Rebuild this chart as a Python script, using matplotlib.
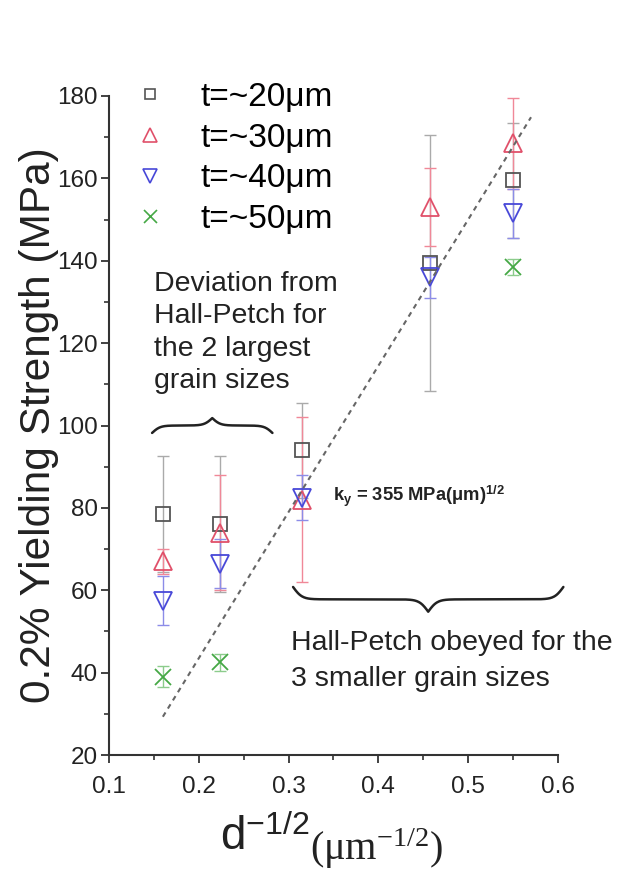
import numpy as np
import matplotlib
matplotlib.use('Agg')
import matplotlib.pyplot as plt
from matplotlib.lines import Line2D

plt.rcParams['font.family'] = ['Liberation Sans', 'DejaVu Sans']
plt.rcParams['mathtext.fontset'] = 'custom'
plt.rcParams['mathtext.rm'] = 'Liberation Serif'
plt.rcParams['mathtext.sf'] = 'Liberation Sans'
plt.rcParams['mathtext.it'] = 'Liberation Serif:italic'
plt.rcParams['mathtext.bf'] = 'Liberation Sans:bold'

# d^-1/2 of the five grain sizes
grain_x = [0.160, 0.224, 0.315, 0.457, 0.550]

# yield strength per foil thickness (MPa) and error bars
t20 = [78.5, 76.0, 94.0, 139.5, 159.5]
t20_err = [14.0, 16.5, 11.5, 31.0, 14.0]
t30 = [67.0, 74.0, 82.0, 153.0, 168.5]
t30_err = [3.0, 14.0, 20.0, 9.5, 11.0]
t40 = [57.5, 66.5, 82.5, 136.0, 151.5]
t40_err = [6.0, 6.0, 5.5, 5.0, 6.0]
t50 = [39.0, 42.5, np.nan, np.nan, 138.5]
t50_err = [2.5, 2.0, np.nan, np.nan, 2.0]

series_labels = ['t=~20μm', 't=~30μm', 't=~40μm', 't=~50μm']

# Hall-Petch fit line
ky = 355.0
sigma0 = -27.5
fit_x = [0.160, 0.570]

x_ticks = [0.1, 0.2, 0.3, 0.4, 0.5, 0.6]
y_ticks = [20, 40, 60, 80, 100, 120, 140, 160, 180]


def draw_brace(ax, x0, x1, y, h, beta):
    # curly brace from x0 to x1, ends at y, tip at y + h
    half = np.linspace(0, 0.5, 200)
    yh = 1 / (1 + np.exp(-beta * half)) + 1 / (1 + np.exp(-beta * (half - 0.5)))
    yh = yh - yh[0]
    yh = yh / yh[-1]
    frac = np.concatenate([half, 1 - half[::-1]])
    shape = np.concatenate([yh, yh[::-1]])
    ax.plot(x0 + (x1 - x0) * frac, y + h * shape, color='#222222', lw=1.8,
            clip_on=False, solid_capstyle='round')


fig = plt.figure(figsize=(6.21, 8.75), dpi=100)
ax = fig.add_axes([0.1755, 0.1371, 0.723, 0.7532])

styles = [
    (t20, t20_err, 's', '#555555', '#aaaaaa', 10),
    (t30, t30_err, '^', '#e0506a', '#f08898', 12.5),
    (t40, t40_err, 'v', '#4848d8', '#8c8ce8', 12.5),
    (t50, t50_err, 'x', '#45a845', '#8ccc8c', 12),
]
for vals, errs, marker, col, ecol, ms in styles:
    ax.errorbar(grain_x, vals, yerr=errs, fmt='none', ecolor=ecol,
                elinewidth=1.0, capsize=4, capthick=1.0)
for vals, errs, marker, col, ecol, ms in styles:
    ax.plot(grain_x, vals, linestyle='none', marker=marker, ms=ms,
            mfc='none', mec=col, mew=1.3)

fx = np.array(fit_x)
ax.plot(fx, ky * fx + sigma0, color='#666666', lw=1.5, ls=(0, (2.4, 2.2)))

handles = [
    Line2D([], [], ls='none', marker=m, ms=ms * 0.78, mfc='none', mec=c, mew=1.2)
    for _, _, m, c, _, ms in styles
]
ax.legend(handles, series_labels, loc='upper left', bbox_to_anchor=(0.0546, 1.021),
          frameon=False, fontsize=24, handlelength=1.0, handletextpad=1.0,
          labelspacing=0.29, borderpad=0.0, borderaxespad=0.0)

ax.text(0.150, 137.6, 'Deviation from\nHall-Petch for\nthe 2 largest\ngrain sizes',
        fontsize=20.5, color='#222222', va='top', ha='left', linespacing=1.33)
draw_brace(ax, 0.148, 0.282, 98.2, 3.6, 30)

ax.text(0.349, 82.7, r'$\mathbf{k}_{\mathbf{y}}$ = 355 MPa($\mathbf{\mu}$m)$^{\mathbf{1/2}}$',
        fontsize=13.2, fontweight='bold', color='#222222', va='center', ha='left')

draw_brace(ax, 0.305, 0.606, 60.8, -6.0, 60)
ax.text(0.303, 42.9, 'Hall-Petch obeyed for the\n3 smaller grain sizes',
        fontsize=20.5, color='#222222', va='center', ha='left', linespacing=1.5)

ax.set_xlim(0.1, 0.6)
ax.set_ylim(20, 180)
ax.set_xticks(x_ticks)
ax.set_yticks(y_ticks)
ax.set_xticks(np.arange(0.15, 0.6, 0.1), minor=True)
ax.set_yticks(np.arange(30, 180, 20), minor=True)
ax.set_xticklabels([f'{v:.1f}' for v in x_ticks])

for side in ['top', 'right']:
    ax.spines[side].set_visible(False)
for side in ['left', 'bottom']:
    ax.spines[side].set_linewidth(1.5)
    ax.spines[side].set_color('#333333')
ax.tick_params(which='major', direction='out', length=6, width=1.3,
               labelsize=17.5, colors='#333333', labelcolor='#222222')
ax.tick_params(axis='x', which='major', pad=9)
ax.tick_params(axis='y', which='major', pad=2)
ax.tick_params(which='minor', direction='out', length=3.5, width=1.2,
               colors='#333333')

ax.set_ylabel('0.2% Yielding Strength (MPa)', fontsize=30.5, color='#222222')
ax.yaxis.set_label_coords(-0.112, 0.5)

# x label: big "d^-1/2" followed by a smaller, lowered "(um^-1/2)"
fig.text(310 / 621, 1 - 850 / 875, r'$\mathsf{d}^{\mathsf{-1/2}}$',
         fontsize=33, color='#222222', ha='right', va='baseline')
fig.text(310 / 621, 1 - 860 / 875, r'$\mathrm{(\mu m}^{\mathrm{-1/2}}\mathrm{)}$',
         fontsize=29, color='#222222', ha='left', va='baseline')

fig.savefig('out.png', dpi=100, facecolor='white')
